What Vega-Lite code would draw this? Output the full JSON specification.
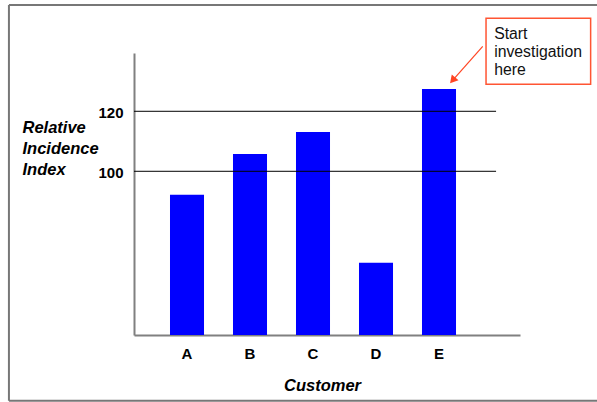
{
  "$schema": "https://vega.github.io/schema/vega-lite/v6.json",
  "autosize": {"type": "none"},
  "width": 386,
  "height": 282,
  "padding": {"left": 134, "top": 53, "right": 77, "bottom": 67},
  "background": "white",
  "config": {"view": {"stroke": null}},
  "datasets": {
    "bars": [
      {"Customer": "A", "Index": 92.2},
      {"Customer": "B", "Index": 105.8},
      {"Customer": "C", "Index": 113.1},
      {"Customer": "D", "Index": 69.5},
      {"Customer": "E", "Index": 127.4}
    ],
    "grid": [
      {"g": 100, "u0": 0, "u1": 93.8},
      {"g": 120, "u0": 0, "u1": 93.8}
    ],
    "box": [
      {"u0": 91.2, "u1": 118.3, "v0": 129.0, "v1": 151.0}
    ],
    "note": [
      {"u": 93.3, "v": 144.0, "label": ["Start", "investigation", "here"]}
    ],
    "arrow": [
      {"u0": 90.34, "v0": 141.67, "u1": 82.54, "v1": 130.33}
    ],
    "head": [
      {"u": 82.54, "v": 130.33}
    ],
    "frame": [
      {"u0": -32.4, "u1": -32.4, "v0": 23.53, "v1": 155.43},
      {"u0": -32.4, "u1": 130, "v0": 155.43, "v1": 155.43},
      {"u0": -32.4, "u1": 130, "v0": 23.53, "v1": 23.53}
    ]
  },
  "resolve": {"scale": {"x": "independent"}, "axis": {"x": "independent"}},
  "encoding": {
    "y": {
      "type": "quantitative",
      "scale": {"domain": [45.43, 139.43], "zero": false, "nice": false},
      "axis": {
        "title": ["Relative", "Incidence", "Index"],
        "values": [100, 120],
        "grid": false,
        "ticks": false,
        "tickSize": 0,
        "labelFont": "Liberation Sans",
        "labelFontSize": 15,
        "labelFontWeight": "bold",
        "labelColor": "black",
        "labelPadding": 11,
        "labelOffset": 1,
        "domainColor": "#808080",
        "domainWidth": 2,
        "titleFont": "Liberation Sans",
        "titleFontSize": 16.5,
        "titleFontWeight": "bold",
        "titleFontStyle": "italic",
        "titleColor": "black",
        "titleAngle": 0,
        "titleAlign": "left",
        "titleBaseline": "alphabetic",
        "titleLineHeight": 21,
        "titleX": -112,
        "titleY": 79
      }
    }
  },
  "layer": [
    {
      "data": {"name": "bars"},
      "mark": {"type": "bar", "color": "#0000FF", "clip": true},
      "encoding": {
        "x": {
          "field": "Customer",
          "type": "nominal",
          "scale": {"paddingInner": 0.46, "paddingOuter": 0.7935, "align": 0.36},
          "axis": {
            "title": "Customer",
            "labelAngle": 0,
            "labelFont": "Liberation Sans",
            "labelFontSize": 15,
            "labelFontWeight": "bold",
            "labelColor": "black",
            "labelBaseline": "alphabetic",
            "labelPadding": 23.5,
            "ticks": false,
            "tickSize": 0,
            "domainColor": "#808080",
            "domainWidth": 2,
            "titleFont": "Liberation Sans",
            "titleFontSize": 16.5,
            "titleFontWeight": "bold",
            "titleFontStyle": "italic",
            "titleColor": "black",
            "titleX": 188,
            "titleY": 55,
            "titleBaseline": "alphabetic"
          }
        },
        "y": {"field": "Index"}
      }
    },
    {
      "layer": [
        {
          "data": {"name": "grid"},
          "mark": {"type": "rule", "color": "black", "strokeWidth": 1},
          "encoding": {
            "x": {"field": "u0", "type": "quantitative", "scale": {"domain": [0, 100], "nice": false, "zero": false}, "axis": null},
            "x2": {"field": "u1"},
            "y": {"field": "g"}
          }
        },
        {
          "data": {"name": "box"},
          "mark": {"type": "rect", "fill": "white", "stroke": "#FF5533", "strokeWidth": 1.5},
          "encoding": {
            "x": {"field": "u0", "type": "quantitative", "axis": null},
            "x2": {"field": "u1"},
            "y": {"field": "v0"},
            "y2": {"field": "v1"}
          }
        },
        {
          "data": {"name": "note"},
          "mark": {"type": "text", "font": "Liberation Sans", "fontSize": 15.8, "color": "#111111", "align": "left", "baseline": "alphabetic", "lineHeight": 18},
          "encoding": {
            "x": {"field": "u", "type": "quantitative", "axis": null},
            "y": {"field": "v"},
            "text": {"field": "label"}
          }
        },
        {
          "data": {"name": "arrow"},
          "mark": {"type": "rule", "color": "#FF4422", "strokeWidth": 1.2},
          "encoding": {
            "x": {"field": "u0", "type": "quantitative", "axis": null},
            "x2": {"field": "u1"},
            "y": {"field": "v0"},
            "y2": {"field": "v1"}
          }
        },
        {
          "data": {"name": "head"},
          "mark": {"type": "point", "shape": "triangle-up", "filled": true, "color": "#FF4422", "size": 80, "angle": 221, "opacity": 1},
          "encoding": {
            "x": {"field": "u", "type": "quantitative", "axis": null},
            "y": {"field": "v"}
          }
        },
        {
          "data": {"name": "frame"},
          "mark": {"type": "rule", "color": "#777777", "strokeWidth": 2},
          "encoding": {
            "x": {"field": "u0", "type": "quantitative", "axis": null},
            "x2": {"field": "u1"},
            "y": {"field": "v0"},
            "y2": {"field": "v1"}
          }
        }
      ]
    }
  ]
}
